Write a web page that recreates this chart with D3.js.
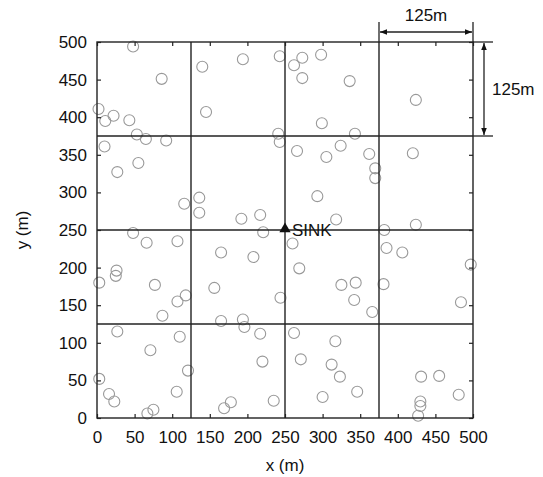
<!DOCTYPE html>
<html>
<head>
<meta charset="utf-8">
<script src="https://cdn.jsdelivr.net/npm/d3@7"></script>
<style>
  body { margin: 0; background: #fff; }
  text { font-family: "Liberation Sans", Arial, sans-serif; fill: #111; }
</style>
</head>
<body>
<svg width="543" height="477"></svg>
<script>
let svg = d3.select("svg");

// sensor node positions (m)
let nodeX = [48, 86, 140, 194, 243, 2, 11, 22, 43, 145, 53, 65, 92, 241, 243, 10, 55, 27, 116, 136, 136, 192, 217, 48, 221,
    273, 298, 262, 273, 336, 424, 299, 343, 266, 324, 305, 362, 370, 370, 420, 293, 318, 382, 424,
    66, 107, 165, 208, 26, 25, 3, 77, 156, 118, 107, 244, 87, 165, 194, 196, 217, 27, 110, 71, 220, 121, 3, 16, 23, 106, 75, 67, 178, 169, 235,
    260, 269, 325, 344, 342, 366, 385, 406, 381, 497, 484, 262, 317, 271, 312, 323, 300, 346, 431, 455, 481, 430, 430, 427];
let nodeY = [494, 451, 467, 477, 481, 411, 395, 402, 396, 407, 377, 371, 369, 378, 367, 361, 339, 327, 285, 293, 273, 265, 270, 246, 247,
    479, 483, 469, 452, 448, 423, 392, 378, 355, 362, 347, 351, 332, 319, 352, 295, 264, 250, 257,
    233, 235, 220, 214, 196, 189, 180, 177, 173, 163, 155, 160, 136, 129, 131, 121, 112, 115, 108, 90, 75, 63, 52, 32, 22, 35, 11, 6, 21, 13, 23,
    232, 199, 177, 180, 157, 141, 226, 220, 178, 204, 154, 113, 102, 78, 71, 55, 28, 35, 55, 56, 31, 22, 16, 3];

let sink = [250, 250];
let gridLines = [125, 250, 375];
let tickValues = [0, 50, 100, 150, 200, 250, 300, 350, 400, 450, 500];

let margin = { left: 97, top: 42 },
    w = 376, h = 376;

let x = d3.scaleLinear().domain([0, 500]).range([0, w]);
let y = d3.scaleLinear().domain([0, 500]).range([h, 0]);

let defs = svg.append("defs");
defs.append("marker")
    .attr("id", "arr")
    .attr("viewBox", "0 0 10 10")
    .attr("refX", 10).attr("refY", 5)
    .attr("markerWidth", 7).attr("markerHeight", 7)
    .attr("orient", "auto-start-reverse")
    .attr("markerUnits", "userSpaceOnUse")
    .append("path")
    .attr("d", "M0,1L10,5L0,9Z")
    .attr("fill", "#111");

let g = svg.append("g").attr("transform", `translate(${margin.left},${margin.top})`);

// nodes
g.append("g")
    .selectAll("circle")
    .data(nodeX.map((d, i) => [d, nodeY[i]]))
    .enter().append("circle")
        .attr("cx", d => x(d[0]))
        .attr("cy", d => y(d[1]))
        .attr("r", 5.5)
        .attr("fill", "none")
        .attr("stroke", "#999")
        .attr("stroke-width", 1.1);

// grid (cell boundaries)
g.append("g")
    .selectAll("line.v")
    .data(gridLines)
    .enter().append("line")
        .attr("x1", d => x(d)).attr("x2", d => x(d))
        .attr("y1", 0).attr("y2", h)
        .attr("stroke", "#222").attr("stroke-width", 1.4);
g.append("g")
    .selectAll("line.h")
    .data(gridLines)
    .enter().append("line")
        .attr("y1", d => y(d)).attr("y2", d => y(d))
        .attr("x1", 0).attr("x2", w)
        .attr("stroke", "#222").attr("stroke-width", 1.4);

// axes with inward ticks
let ax = g.append("g").attr("transform", `translate(0,${h})`)
    .call(d3.axisBottom(x).tickValues(tickValues).tickSize(-4).tickPadding(13));
let ay = g.append("g")
    .call(d3.axisLeft(y).tickValues(tickValues).tickSize(-4).tickPadding(10));
let at = g.append("g")
    .call(d3.axisTop(x).tickValues(tickValues).tickSize(-4).tickFormat(""));
let ar = g.append("g").attr("transform", `translate(${w},0)`)
    .call(d3.axisRight(y).tickValues(tickValues).tickSize(-4).tickFormat(""));

[ax, ay, at, ar].forEach(a => {
    a.select(".domain").remove();
    a.selectAll(".tick line").attr("stroke", "#222").attr("stroke-width", 1.2);
    a.selectAll("text").style("font-size", "17px").attr("fill", "#111");
});

g.append("rect")
    .attr("width", w).attr("height", h)
    .attr("fill", "none")
    .attr("stroke", "#222").attr("stroke-width", 1.4);

// sink
g.append("path")
    .attr("d", d3.symbol(d3.symbolTriangle, 55)())
    .attr("transform", `translate(${x(sink[0])},${y(sink[1]) - 1})`)
    .attr("fill", "#111");
g.append("text")
    .attr("x", x(sink[0]) + 7).attr("y", y(sink[1]) + 6)
    .style("font-size", "17px")
    .text("SINK");

// axis labels
svg.append("text")
    .attr("x", margin.left + w / 2).attr("y", 471)
    .attr("text-anchor", "middle")
    .style("font-size", "17px")
    .text("x (m)");
svg.append("text")
    .attr("transform", `translate(28,${margin.top + h / 2}) rotate(-90)`)
    .attr("text-anchor", "middle")
    .style("font-size", "17px")
    .text("y (m)");

// cell size annotation
let cx0 = x(375), cx1 = x(500), cy0 = y(500), cy1 = y(375);
let ann = g.append("g").attr("stroke", "#222").attr("stroke-width", 1.3);
ann.append("line").attr("x1", cx0).attr("x2", cx0).attr("y1", -20).attr("y2", 0);
ann.append("line").attr("x1", cx1).attr("x2", cx1).attr("y1", -20).attr("y2", 0);
ann.append("line").attr("x1", cx0 + 1).attr("x2", cx1 - 1).attr("y1", -10).attr("y2", -10)
    .attr("marker-start", "url(#arr)").attr("marker-end", "url(#arr)");
ann.append("line").attr("x1", w).attr("x2", w + 20).attr("y1", cy0).attr("y2", cy0);
ann.append("line").attr("x1", w).attr("x2", w + 20).attr("y1", cy1).attr("y2", cy1);
ann.append("line").attr("x1", w + 11).attr("x2", w + 11).attr("y1", cy0 + 1).attr("y2", cy1 - 1)
    .attr("marker-start", "url(#arr)").attr("marker-end", "url(#arr)");

g.append("text")
    .attr("x", (cx0 + cx1) / 2).attr("y", -21)
    .attr("text-anchor", "middle")
    .style("font-size", "17px")
    .text("125m");
g.append("text")
    .attr("x", w + 19).attr("y", (cy0 + cy1) / 2 + 6)
    .style("font-size", "17px")
    .text("125m");
</script>
</body>
</html>
